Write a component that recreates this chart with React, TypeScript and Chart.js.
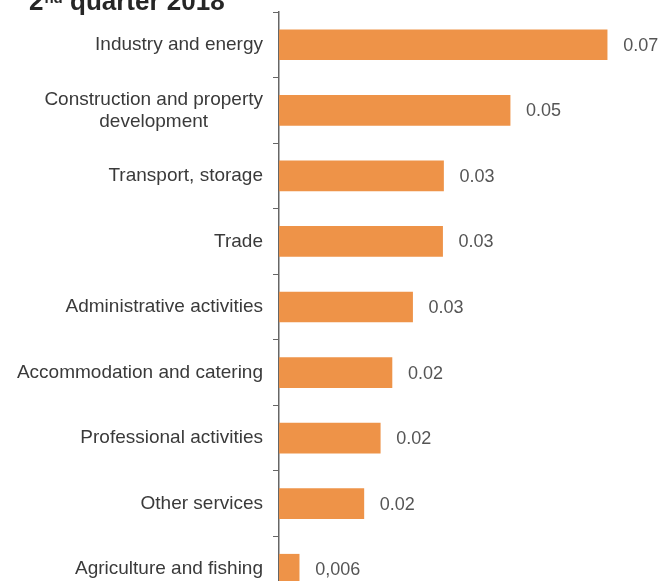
import React, { useEffect, useRef } from "react";
import { Chart, registerables } from "chart.js";

Chart.register(...registerables);

const categories: string[][] = [
  ["Industry and energy"],
  ["Construction and property", "development"],
  ["Transport, storage"],
  ["Trade"],
  ["Administrative activities"],
  ["Accommodation and catering"],
  ["Professional activities"],
  ["Other services"],
  ["Agriculture and fishing"],
];

const values: number[] = [0.07, 0.0493, 0.0351, 0.0349, 0.0285, 0.0241, 0.0216, 0.0181, 0.0043];

const valueLabels: string[] = ["0.07", "0.05", "0.03", "0.03", "0.03", "0.02", "0.02", "0.02", "0,006"];

const titleMain = "2";
const titleSup = "nd";
const titleRest = " quarter 2018";

const FONT = "'Liberation Sans', Arial, sans-serif";

const drawPlugin = {
  id: "customText",
  afterDraw(chart: any) {
    const ctx = chart.ctx as CanvasRenderingContext2D;
    const yScale = chart.scales.y;
    const meta = chart.getDatasetMeta(0);
    ctx.save();
    // category labels
    ctx.font = `19px ${FONT}`;
    ctx.fillStyle = "#3a3a3a";
    ctx.textBaseline = "middle";
    ctx.textAlign = "center";
    const rightEdge = yScale.right - 16;
    categories.forEach((lines, i) => {
      const yc = yScale.getPixelForValue(i);
      const widest = Math.max(...lines.map((l) => ctx.measureText(l).width));
      const cx = rightEdge - widest / 2;
      const lh = 22;
      const y0 = yc - ((lines.length - 1) * lh) / 2;
      lines.forEach((l, j) => ctx.fillText(l, cx, y0 + j * lh));
    });
    // value labels
    ctx.font = `18px ${FONT}`;
    ctx.fillStyle = "#555555";
    ctx.textAlign = "left";
    meta.data.forEach((bar: any, i: number) => {
      ctx.fillText(valueLabels[i], bar.x + 16, bar.y + 1);
    });
    // title
    ctx.fillStyle = "#262626";
    ctx.textBaseline = "alphabetic";
    ctx.font = `bold 26px ${FONT}`;
    let x = 29;
    const base = 10;
    ctx.fillText(titleMain, x, base);
    x += ctx.measureText(titleMain).width + 1;
    ctx.font = `bold 15px ${FONT}`;
    ctx.fillText(titleSup, x, base - 7);
    x += ctx.measureText(titleSup).width;
    ctx.font = `bold 26px ${FONT}`;
    ctx.fillText(titleRest, x, base);
    ctx.restore();
  },
};

export default function App() {
  const ref = useRef<HTMLCanvasElement | null>(null);
  useEffect(() => {
    if (!ref.current) return;
    const chart = new Chart(ref.current, {
      type: "bar",
      data: {
        labels: categories.map((c) => c.join(" ")),
        datasets: [
          {
            data: values,
            backgroundColor: "#EE9348",
            borderWidth: 0,
            barThickness: 30,
          },
        ],
      },
      options: {
        indexAxis: "y",
        animation: false,
        responsive: false,
        maintainAspectRatio: false,
        layout: { padding: { top: 12, bottom: 8, left: 0, right: 10 } },
        plugins: {
          legend: { display: false },
          tooltip: { enabled: false },
          title: { display: false },
        },
        scales: {
          x: {
            display: false,
            min: 0,
            max: 0.08,
          },
          y: {
            afterFit(scale: any) {
              scale.width = 279;
            },
            grid: {
              display: true,
              drawOnChartArea: false,
              drawTicks: true,
              tickLength: 6,
              color: "#666666",
              offset: true,
            },
            border: { display: true, color: "#666666", width: 1.5 },
            ticks: { display: false },
          },
        },
      },
      plugins: [drawPlugin],
    });
    return () => chart.destroy();
  }, []);
  return (
    <div style={{ position: "fixed", left: 0, top: 0, width: 664, height: 581, overflow: "hidden", background: "#fff" }}>
      <canvas ref={ref} width={664} height={610} style={{ display: "block", width: 664, height: 610 }} />
    </div>
  );
}
